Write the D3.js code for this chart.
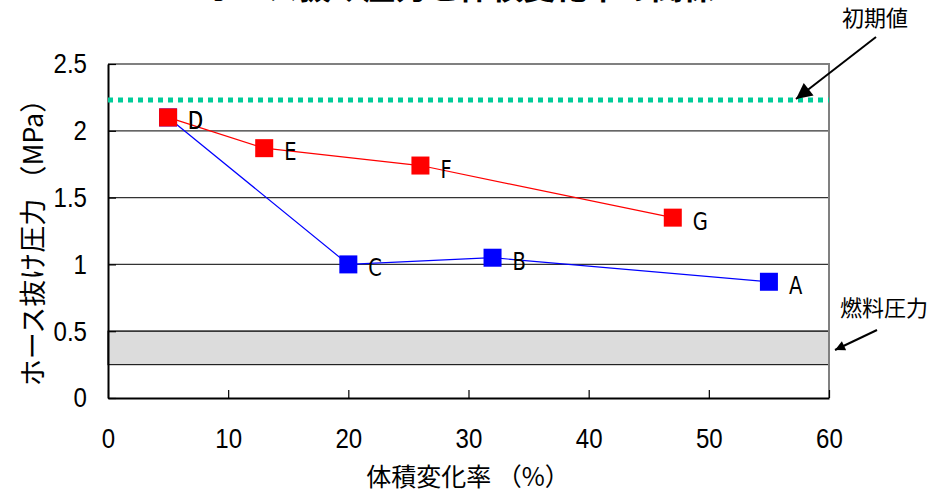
<!DOCTYPE html>
<html>
<head>
<meta charset="utf-8">
<script src="https://cdn.jsdelivr.net/npm/d3@7"></script>
<style>
  body { margin: 0; background: #fff; }
  svg { display: block; }
  .narrow { transform-box: fill-box; transform: scaleX(0.78); }
  .tick text { transform-box: fill-box; transform: scaleX(0.86); }
</style>
</head>
<body>
<div id="chart"></div>
<script>
// data
var labels_blue = ["D", "C", "B", "A"];
var x_blue = [5, 20, 32, 55];
var y_blue = [2.1, 1.0, 1.05, 0.87];

var labels_red = ["D", "E", "F", "G"];
var x_red = [5, 13, 26, 47];
var y_red = [2.1, 1.87, 1.74, 1.35];

var initial_value = 2.23;
var fuel_band = [0.25, 0.5];

var x_ticks = [0, 10, 20, 30, 40, 50, 60];
var y_ticks = [0, 0.5, 1, 1.5, 2, 2.5];

var title = "ホース抜け圧力と体積変化率の関係";
var x_title = "体積変化率 （%）";
var y_title = "ホース抜け圧力 （MPa）";

var W = 931, H = 494;
var plot = {left: 108, right: 829, top: 64, bottom: 398};

var svg = d3.select("#chart").append("svg")
    .attr("width", W)
    .attr("height", H);

var defs = svg.append("defs");
defs.append("marker")
    .attr("id", "head")
    .attr("viewBox", "0 0 10 10")
    .attr("refX", 10).attr("refY", 5)
    .attr("markerWidth", 12).attr("markerHeight", 10)
    .attr("markerUnits", "userSpaceOnUse")
    .attr("orient", "auto")
    .append("path")
    .attr("d", "M0,0 L10,5 L0,10 z")
    .attr("fill", "#000");
defs.append("marker")
    .attr("id", "headBig")
    .attr("viewBox", "0 0 10 10")
    .attr("refX", 10).attr("refY", 5)
    .attr("markerWidth", 18).attr("markerHeight", 16)
    .attr("markerUnits", "userSpaceOnUse")
    .attr("orient", "auto")
    .append("path")
    .attr("d", "M0,0 L10,5 L0,10 z")
    .attr("fill", "#000");

var x = d3.scaleLinear().domain([0, 60]).range([plot.left, plot.right]);
var y = d3.scaleLinear().domain([0, 2.5]).range([plot.bottom, plot.top]);

// title (mostly cut off at the top edge, as in the source image)
svg.append("text")
    .attr("x", 460)
    .attr("y", -1)
    .attr("text-anchor", "middle")
    .style("font-family", "'Noto Sans CJK JP'")
    .style("font-weight", "bold")
    .style("font-size", "32px")
    .text(title);

// fuel pressure band
svg.append("rect")
    .attr("x", x(0))
    .attr("y", y(fuel_band[1]))
    .attr("width", x(60) - x(0))
    .attr("height", y(fuel_band[0]) - y(fuel_band[1]))
    .attr("fill", "#dcdcdc")
    .attr("stroke", "#222")
    .attr("stroke-width", 1.2);

// gridlines
svg.append("g")
    .selectAll("line")
    .data(y_ticks.filter(function(d) { return d > 0 && d < 2.5; }))
    .enter().append("line")
    .attr("x1", x(0)).attr("x2", x(60))
    .attr("y1", function(d) { return y(d); })
    .attr("y2", function(d) { return y(d); })
    .attr("stroke", "#333")
    .attr("stroke-width", 1.2);

// top and right frame
svg.append("path")
    .attr("d", "M" + x(0) + "," + y(2.5) + " H" + x(60) + " V" + y(0))
    .attr("fill", "none")
    .attr("stroke", "#808080")
    .attr("stroke-width", 2);

// x axis
var xAxis = svg.append("g")
    .attr("transform", "translate(0," + y(0) + ")")
    .call(d3.axisBottom(x).tickValues(x_ticks).tickSizeInner(-8).tickSizeOuter(0).tickPadding(30));
xAxis.select(".domain").attr("stroke", "#000").attr("stroke-width", 2);
xAxis.selectAll(".tick line").attr("stroke", "#000").attr("stroke-width", 1.2);
xAxis.selectAll("text")
    .style("transform-origin", "center")
    .style("font-family", "'Liberation Sans', Arial, sans-serif")
    .style("font-size", "28px")
    .attr("fill", "#000");

// y axis
var yAxis = svg.append("g")
    .attr("transform", "translate(" + x(0) + ",0)")
    .call(d3.axisLeft(y).tickValues(y_ticks).tickSizeInner(-8).tickSizeOuter(0).tickPadding(21)
        .tickFormat(function(d) { return String(d); }));
yAxis.select(".domain").attr("stroke", "#000").attr("stroke-width", 2);
yAxis.selectAll(".tick line").attr("stroke", "#000").attr("stroke-width", 1.2);
yAxis.selectAll("text")
    .style("transform-origin", "right center")
    .style("font-family", "'Liberation Sans', Arial, sans-serif")
    .style("font-size", "28px")
    .attr("fill", "#000");

// initial value dotted line
svg.append("line")
    .attr("x1", x(0)).attr("x2", x(60))
    .attr("y1", y(initial_value)).attr("y2", y(initial_value))
    .attr("stroke", "#00cc99")
    .attr("stroke-width", 5)
    .attr("stroke-dasharray", "5,5");

// series
var blue = x_blue.map(function(d, i) { return {x: d, y: y_blue[i], label: labels_blue[i]}; });
var red = x_red.map(function(d, i) { return {x: d, y: y_red[i], label: labels_red[i]}; });

var line = d3.line()
    .x(function(d) { return x(d.x); })
    .y(function(d) { return y(d.y); });

function drawSeries(data, color) {
    svg.append("path")
        .datum(data)
        .attr("d", line)
        .attr("fill", "none")
        .attr("stroke", color)
        .attr("stroke-width", 1.2);
    svg.append("g")
        .selectAll("rect")
        .data(data)
        .enter().append("rect")
        .attr("x", function(d) { return x(d.x) - 9; })
        .attr("y", function(d) { return y(d.y) - 9; })
        .attr("width", 18)
        .attr("height", 18)
        .attr("fill", color);
    svg.append("g")
        .selectAll("text")
        .data(data)
        .enter().append("text")
        .attr("class", "narrow")
        .style("transform-origin", "left center")
        .attr("x", function(d) { return x(d.x) + 20; })
        .attr("y", function(d) { return y(d.y) + 12; })
        .style("font-family", "'DejaVu Sans', sans-serif")
        .style("font-size", "25px")
        .attr("fill", "#000")
        .text(function(d) { return d.label; });
}
drawSeries(blue, "#0000ff");
drawSeries(red, "#ff0000");

// axis titles
svg.append("text")
    .attr("x", 468)
    .attr("y", 486)
    .attr("text-anchor", "middle")
    .style("font-family", "'Noto Sans CJK JP'")
    .style("font-size", "25px")
    .text(x_title);

svg.append("text")
    .attr("transform", "translate(43,236) rotate(-90)")
    .attr("text-anchor", "middle")
    .style("font-family", "'Noto Sans CJK JP'")
    .style("font-size", "27px")
    .text(y_title);

// annotations
svg.append("text")
    .attr("x", 875)
    .attr("y", 26)
    .attr("text-anchor", "middle")
    .style("font-family", "'Noto Sans CJK JP'")
    .style("font-size", "22px")
    .text("初期値");
svg.append("line")
    .attr("x1", 876).attr("y1", 37)
    .attr("x2", 796).attr("y2", 99)
    .attr("stroke", "#000")
    .attr("stroke-width", 2)
    .attr("marker-end", "url(#headBig)");

svg.append("text")
    .attr("x", 884)
    .attr("y", 316)
    .attr("text-anchor", "middle")
    .style("font-family", "'Noto Sans CJK JP'")
    .style("font-size", "22px")
    .text("燃料圧力");
svg.append("line")
    .attr("x1", 877).attr("y1", 330)
    .attr("x2", 835).attr("y2", 350)
    .attr("stroke", "#000")
    .attr("stroke-width", 2)
    .attr("marker-end", "url(#head)");
</script>
</body>
</html>
